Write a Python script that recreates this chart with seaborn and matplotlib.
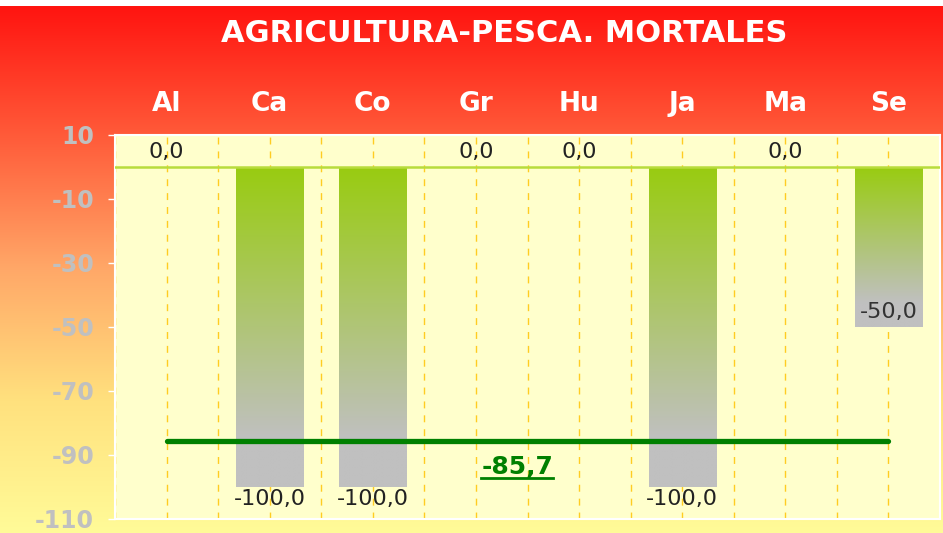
import numpy as np
import pandas as pd
import matplotlib
matplotlib.use('Agg')
import matplotlib.pyplot as plt
from matplotlib.colors import LinearSegmentedColormap, to_rgb
from matplotlib.lines import Line2D
import seaborn as sns

# Data
categories = ['Al', 'Ca', 'Co', 'Gr', 'Hu', 'Ja', 'Ma', 'Se']
values = [0.0, -100.0, -100.0, 0.0, 0.0, -100.0, 0.0, -50.0]
mean_value = -85.7
title = 'AGRICULTURA-PESCA. MORTALES'
yticks = [10, -10, -30, -50, -70, -90, -110]

df = pd.DataFrame({'cat': categories, 'val': values})

def fmt(v):
    return f'{v:.1f}'.replace('.', ',')

fig = plt.figure(figsize=(9.43, 5.33), dpi=100, facecolor='white')

# background gradient red -> yellow
bg = fig.add_axes([0, 0, 1, 527 / 533])
bg_cmap = LinearSegmentedColormap.from_list(
    'bg', [(0, '#ff1410'), (0.25, '#ff5c3a'), (0.5, '#ffa868'),
           (0.75, '#ffe17e'), (1, '#fffb98')])
bg.imshow(np.linspace(0, 1, 256).reshape(-1, 1), aspect='auto', cmap=bg_cmap,
          extent=[0, 1, 0, 1])
bg.set_axis_off()

ax = fig.add_axes([115 / 943, 14 / 533, 825 / 943, 384 / 533])
ax.set_facecolor('#ffffcc')

sns.barplot(data=df, x='cat', y='val', width=0.65, ax=ax, color='#99cc11',
            zorder=2, errorbar=None)

# gradient fill inside bars
green = np.array(to_rgb('#99cc11'))
gray = np.array(to_rgb('#c0c0c0'))
t = np.clip(np.linspace(0, 1, 200) / 0.85, 0, 1)
grad = green[None, :] * (1 - t[:, None]) + gray[None, :] * t[:, None]
grad = grad[:, None, :]
for p in ax.patches:
    h = p.get_height()
    if h == 0:
        p.set_visible(False)
        continue
    x0 = p.get_x()
    w = p.get_width()
    ax.imshow(grad, aspect='auto', extent=[x0, x0 + w, h, 0], zorder=2,
              interpolation='bilinear')
    p.set_visible(False)

n = len(categories)
ax.set_xlim(-0.5, n - 0.5)
ax.set_ylim(-110, 10)

# dashed vertical gridlines at centers and boundaries
for gx in np.arange(-0.5, n, 0.5):
    ax.axvline(gx, color='#ffcc22', lw=1, ls=(0, (5, 5)), zorder=1)

ax.axhline(0, color='#b8dc3c', lw=1.8, zorder=3)
ax.plot([0, n - 1], [mean_value, mean_value], color='#008000', lw=3.8,
        solid_capstyle='round', zorder=4)

# value labels
for i, v in enumerate(values):
    if v == 0:
        ax.text(i, 1.5, fmt(v), ha='center', va='bottom', fontsize=16, color='#222222')
    elif v <= -100:
        ax.text(i, v - 0.5, fmt(v), ha='center', va='top', fontsize=16, color='#222222')
    else:
        ax.text(i, v + 1.5, fmt(v), ha='center', va='bottom', fontsize=16, color='#333333')

mtxt = ax.text(3.4, -93.8, fmt(mean_value), ha='center', va='center', fontsize=18,
               fontweight='bold', color='#008000', zorder=5)

# axes styling
ax.set_yticks(yticks)
ax.set_yticklabels([str(y) for y in yticks])
ax.tick_params(axis='y', colors='white', labelcolor='#c0c0c0', labelsize=17,
               length=5, width=1, pad=10)
for lab in ax.get_yticklabels():
    lab.set_fontweight('bold')
ax.xaxis.tick_top()
ax.tick_params(axis='x', length=0, labelcolor='white', labelsize=19, pad=13)
for lab in ax.get_xticklabels():
    lab.set_fontweight('bold')
ax.set_xlabel('')
ax.set_ylabel('')
for s in ax.spines.values():
    s.set_color('white')
    s.set_linewidth(1.5)

fig.text(0.535, 0.938, title, ha='center', va='center', color='white',
         fontsize=22, fontweight='bold')

# underline the mean label
fig.canvas.draw()
bb = mtxt.get_window_extent().transformed(ax.transData.inverted())
uy = bb.y0 + 0.4
ax.add_line(Line2D([bb.x0, bb.x1], [uy, uy], color='#008000', lw=2, zorder=5))

fig.savefig('out.png', dpi=100, facecolor=fig.get_facecolor())
